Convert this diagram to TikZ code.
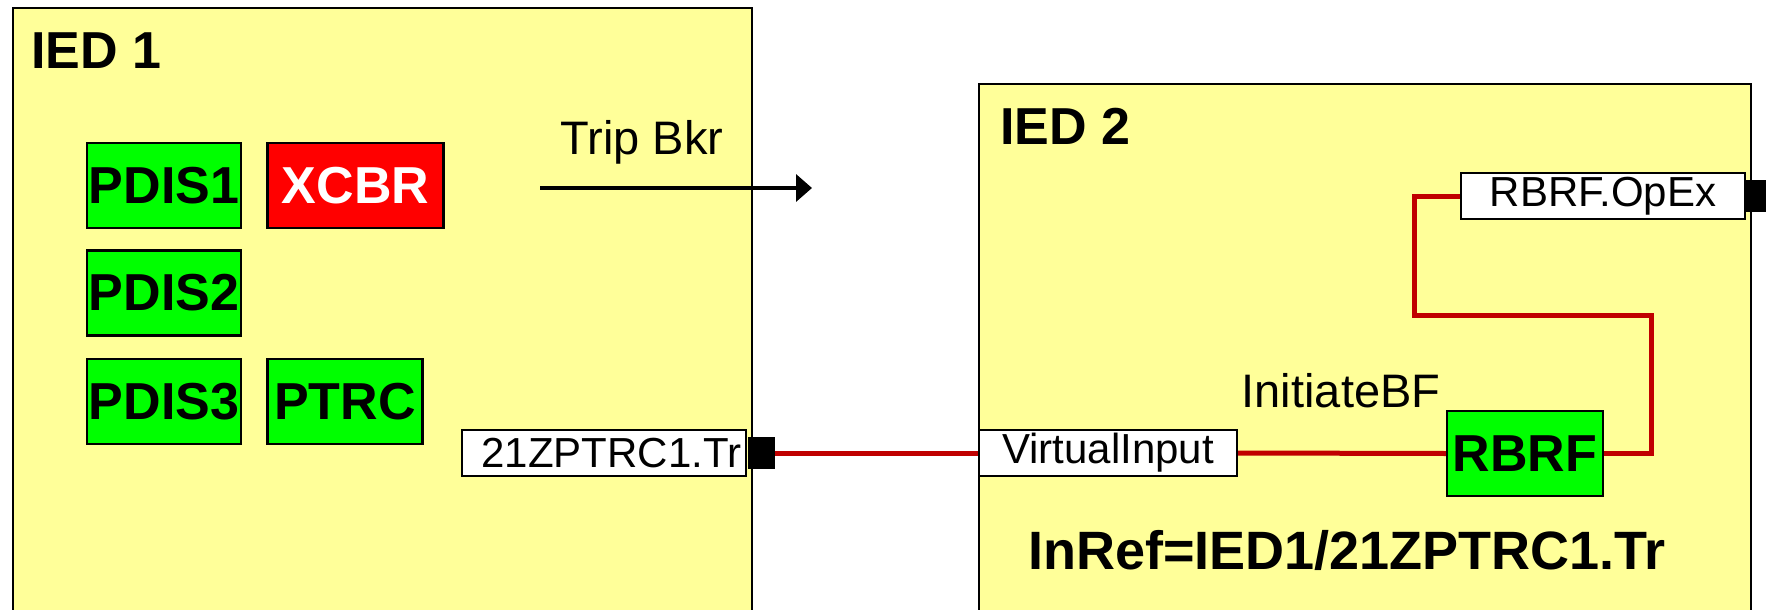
\documentclass[tikz,border=0pt]{standalone}
\usepackage{fontspec}
\setmainfont{Liberation Sans}
\usetikzlibrary{arrows.meta, positioning}

\definecolor{iedyellow}{RGB}{255,255,153}
\definecolor{lngreen}{RGB}{0,255,0}
\definecolor{lnred}{RGB}{255,0,0}
\definecolor{wirered}{RGB}{192,0,0}

\begin{document}
\begin{tikzpicture}[
    x=1pt, y=-1pt,
    ied/.style={
        rectangle,
        draw,
        line width=2pt,
        fill=iedyellow,
        anchor=north west,
        inner sep=0pt
    },
    title/.style={
        anchor=base west,
        inner sep=0pt,
        font=\fontsize{52}{60}\selectfont\bfseries
    },
    lnode/.style={
        rectangle,
        draw,
        line width=2.5pt,
        fill=lngreen,
        minimum width=154pt,
        minimum height=85pt,
        inner sep=0pt,
        font=\fontsize{52}{60}\selectfont\bfseries
    },
    signal/.style={
        rectangle,
        draw,
        line width=2pt,
        fill=white,
        minimum width=284pt,
        minimum height=46pt,
        inner sep=0pt,
        font=\fontsize{42}{48}\selectfont
    },
    port/.style={
        rectangle,
        fill=black,
        minimum width=27pt,
        minimum height=32pt,
        inner sep=0pt
    },
    tag/.style={
        anchor=base,
        inner sep=0pt,
        font=\fontsize{47}{54}\selectfont
    },
    arrow/.style={
        -{Triangle[length=16pt, width=27pt]},
        line width=3.5pt
    },
    wire/.style={
        draw=wirered,
        line width=5pt
    }
]

\useasboundingbox (0,0) rectangle (1766,610);
\clip (0,0) rectangle (1766,610);

% IED 1
\node[ied, minimum width=739pt, minimum height=660pt] (ied1) at (12,7) {};
\node[title] (ied1title) at (31,68) {IED 1};

\node[lnode] (pdis1) at (164,185.5) {PDIS1};
\node[lnode, fill=lnred, text=white, minimum width=176pt, right=24pt of pdis1] (xcbr) {XCBR};
\node[lnode, below=20pt of pdis1] (pdis2) {PDIS2};
\node[lnode, below=21pt of pdis2] (pdis3) {PDIS3};
\node[lnode, minimum width=155pt, right=24pt of pdis3] (ptrc) {PTRC};

\node[port] (trport) at (761,453) {};
\node[signal, anchor=east] (trsignal) at (trport.west) {\hspace{14pt}21ZPTRC1.Tr};

% Trip arrow
\coordinate (tripstart) at (540,188);
\coordinate (tripend) at (812,188);
\draw[arrow] (tripstart) -- (tripend);
\node[tag] (triplabel) at (642,154) {Trip Bkr};

% IED 2
\node[ied, minimum width=772pt, minimum height=600pt] (ied2) at (978,83) {};
\node[title] (ied2title) at (1000,144) {IED 2};

\node[signal, minimum width=258pt, anchor=west] (vinput) at (978,453) {VirtualInput};
\node[lnode, minimum width=156pt] (rbrf) at (1525,453.5) {RBRF};
\node[signal, anchor=east] (opex) at (1746,196) {RBRF.OpEx\hspace{16pt}};
\node[port, anchor=west] (opexport) at (opex.east) {};

\node[tag] (initbf) at (1341,407) {InitiateBF};
\node[anchor=base, inner sep=0pt, font=\fontsize{54}{62}\selectfont\bfseries] (inref) at (1347,569) {InRef=IED1/21ZPTRC1.Tr};

% Wires
\draw[wire] (trport.east) -- (vinput.west);
\draw[wire] (vinput.east) -- (rbrf.west);
\draw[wire] (rbrf.east) -- ++(47,0) -- ++(0,-138) -- ++(-237,0) |- (opex.west);

\end{tikzpicture}
\end{document}
